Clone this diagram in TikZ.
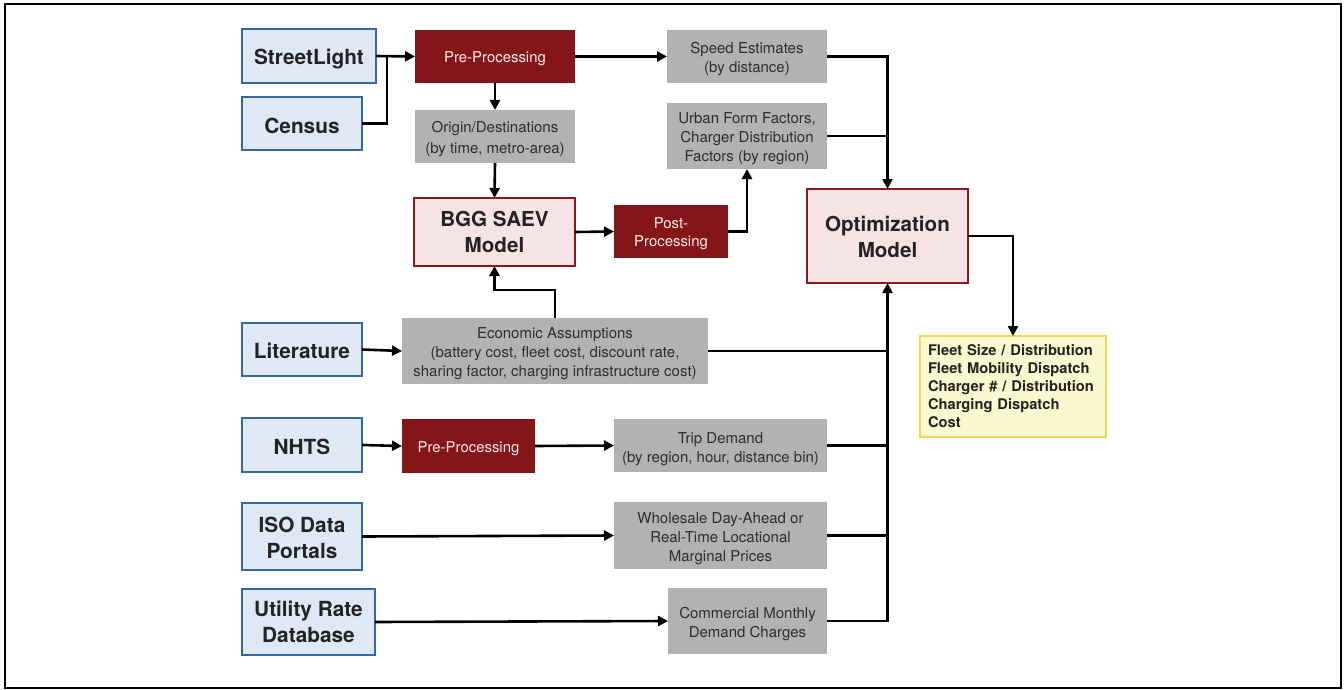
\documentclass[tikz,border=0pt]{standalone}
\usepackage{fontspec}
\setmainfont{TeX Gyre Heros}
\usetikzlibrary{arrows.meta}
\definecolor{srcfill}{RGB}{223,233,245}
\definecolor{srcline}{RGB}{52,104,160}
\definecolor{darkred}{RGB}{132,22,26}
\definecolor{grayfill}{RGB}{178,178,178}
\definecolor{grtext}{RGB}{45,45,45}
\definecolor{pinkfill}{RGB}{245,227,229}
\definecolor{pinkline}{RGB}{139,26,30}
\definecolor{yelfill}{RGB}{250,248,206}
\definecolor{yelline}{RGB}{246,214,88}
\definecolor{txt}{RGB}{35,35,35}
\begin{document}
\begin{tikzpicture}[x=1pt,y=-1pt,
  every node/.style={inner sep=0pt,outer sep=0pt,align=center},
  srcbox/.style={draw=srcline,line width=1.4pt,fill=srcfill},
  srctext/.style={text=txt,font=\fontsize{20.8}{26}\selectfont\bfseries},
  procbox/.style={fill=darkred},
  proctext/.style={text=white!92!red,font=\fontsize{14.9}{18}\selectfont},
  databox/.style={fill=grayfill},
  datatext/.style={text=grtext,font=\fontsize{15}{19}\selectfont},
  modelbox/.style={draw=pinkline,line width=2.6pt,fill=pinkfill},
  modeltext/.style={text=txt,font=\fontsize{20.6}{26}\selectfont\bfseries},
  outbox/.style={draw=yelline,line width=1.4pt,fill=yelfill,text=txt,font=\fontsize{14.7}{18}\selectfont\bfseries,align=left},
  conn/.style={line width=2.6pt,black},
  arr/.style={conn,-{Triangle[length=10pt,width=10pt]}}
]
\useasboundingbox (0,0) rectangle (1344,690);
\draw[line width=1.6pt] (5,4) rectangle (1341,688);

\node[srcbox,minimum width=134pt,minimum height=54pt,label={[srctext,yshift=-3pt]center:StreetLight}] (sl) at (309,56) {};
\node[srcbox,minimum width=120pt,minimum height=53pt,label={[srctext,yshift=-2pt]center:Census}] (census) at (302,123.5) {};
\node[procbox,minimum width=160pt,minimum height=53pt,label={[proctext,yshift=-2.5pt]center:Pre-Processing}] (pre1) at (495,56.5) {};
\node[databox,minimum width=160pt,minimum height=53pt,label={[datatext,yshift=-3pt]center:{Origin/Destinations\\[2pt](by time, metro-area)}}] (od) at (495,136.5) {};
\node[modelbox,minimum width=161pt,minimum height=68pt,label={[modeltext]center:{BGG SAEV\\Model}}] (bgg) at (494.5,232) {};
\node[procbox,minimum width=114pt,minimum height=53pt,label={[proctext,yshift=-2pt]center:{Post-\\Processing}}] (post) at (671,231.5) {};
\node[databox,minimum width=160pt,minimum height=53pt,label={[datatext,yshift=-3pt]center:{Speed Estimates\\(by distance)}}] (speed) at (747,56.5) {};
\node[databox,minimum width=160pt,minimum height=66pt,label={[datatext,yshift=-3pt]center:{Urban Form Factors,\\Charger Distribution\\Factors (by region)}}] (urban) at (747,136) {};
\node[modelbox,minimum width=161pt,minimum height=94pt,label={[modeltext,yshift=-1pt]center:{Optimization\\Model}}] (opt) at (887.5,236) {};
\node[outbox,minimum width=186pt,minimum height=101pt,text width=170pt] (out) at (1013,386.5) {Fleet Size / Distribution\\Fleet Mobility Dispatch\\Charger \# / Distribution\\Charging Dispatch\\Cost};
\node[srcbox,minimum width=120pt,minimum height=53pt,label={[srctext,yshift=-1pt]center:Literature}] (lit) at (302,349.5) {};
\node[databox,minimum width=306pt,minimum height=66pt,label={[datatext,yshift=-3pt]center:{Economic Assumptions\\(battery cost, fleet cost, discount rate,\\sharing factor, charging infrastructure cost)}}] (econ) at (555,351) {};
\node[srcbox,minimum width=120pt,minimum height=54pt,label={[srctext,yshift=-2pt]center:NHTS}] (nhts) at (302,445) {};
\node[procbox,minimum width=133pt,minimum height=54pt,label={[proctext,yshift=-3pt]center:Pre-Processing}] (pre2) at (468.5,446) {};
\node[databox,minimum width=213pt,minimum height=53pt,label={[datatext,yshift=-3.5pt]center:{Trip Demand\\(by region, hour, distance bin)}}] (trip) at (720.5,445.5) {};
\node[srcbox,minimum width=120pt,minimum height=67pt,label={[srctext,yshift=-1pt]center:{ISO Data\\Portals}}] (iso) at (302,536.5) {};
\node[databox,minimum width=213pt,minimum height=67pt,label={[datatext,yshift=-3pt]center:{Wholesale Day-Ahead or\\Real-Time Locational\\Marginal Prices}}] (whole) at (720.5,535.5) {};
\node[srcbox,minimum width=133pt,minimum height=66pt,label={[srctext]center:{Utility Rate\\Database}}] (util) at (308.5,622) {};
\node[databox,minimum width=159pt,minimum height=66pt,label={[datatext,yshift=-3pt]center:{Commercial Monthly\\Demand Charges}}] (comm) at (747.5,621) {};

\coordinate (j1) at (387,56);
\coordinate (j2) at (494.5,290);

\draw[arr] (sl.east) -- (pre1.west);
\draw[conn] (census.east) -| (j1);
\draw[arr] (pre1.south) -- (od.north);
\draw[arr] (od.south) -- (bgg.north);
\draw[arr] (bgg.east) -- (post.west);
\draw[arr] (post.east) -| (urban.south);
\draw[arr] (pre1.east) -- (speed.west);
\draw[arr] (speed.east) -| (opt.north);
\draw[conn] (urban.east) -- (urban.east -| opt.north);
\draw[arr] (opt.east) -| (out.north);
\draw[arr] (lit.east) -- (econ.west);
\draw[arr] (econ.north) |- (j2) -- (bgg.south);
\draw[conn] (econ.east) -- (econ.east -| opt.south);
\draw[arr] (nhts.east) -- (pre2.west);
\draw[arr] (pre2.east) -- (trip.west);
\draw[conn] (trip.east) -- (trip.east -| opt.south);
\draw[arr] (iso.east) -- (whole.west);
\draw[conn] (whole.east) -- (whole.east -| opt.south);
\draw[arr] (util.east) -- (comm.west);
\draw[arr] (comm.east) -| (opt.south);
\end{tikzpicture}
\end{document}
